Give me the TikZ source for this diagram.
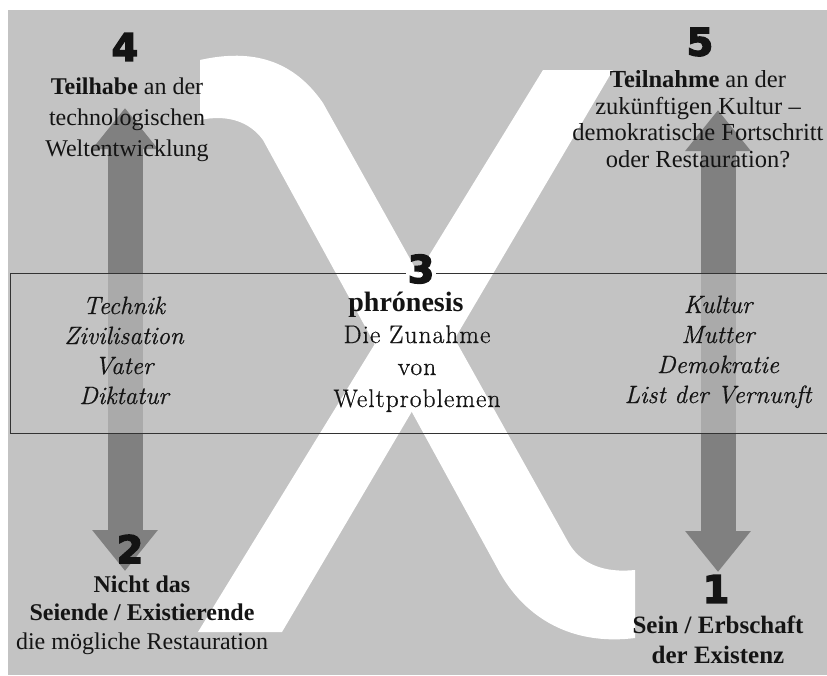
\documentclass[tikz,border=0pt]{standalone}
\usepackage{fontspec}
\setmainfont{Liberation Serif}
\newfontfamily\lmfont{Latin Modern Roman}[FakeBold=0.6]
\newfontfamily\lmwide{Latin Modern Roman}[FakeBold=0.6, LetterSpace=4]
\newfontfamily\numfont{DejaVu Sans}[FakeBold=4]
\usetikzlibrary{arrows.meta}
\definecolor{bg}{HTML}{C3C3C3}
\definecolor{arr}{HTML}{808080}
\definecolor{ink}{HTML}{141414}
\begin{document}
\begin{tikzpicture}[x=1pt,y=-1pt,
  txt/.style={text=ink, inner sep=0pt, align=center, anchor=base},
  times/.style={txt, font=\fontsize{24}{31}\selectfont},
  ital/.style={txt, font=\lmfont\itshape\fontsize{25}{30}\selectfont},
  num/.style={text=ink, inner sep=2pt, font=\numfont\bfseries\fontsize{38}{38}\selectfont},
  bigarrow/.style={draw=arr, line width=35pt, {Triangle[width=63pt,length=41pt]}-{Triangle[width=63pt,length=41pt]}},
  frame/.style={draw=black!80, line width=1pt}]
\useasboundingbox (0,0) rectangle (827,675);
\clip (0,0) rectangle (827,675);
\fill[white] (0,0) rectangle (827,675);
\fill[bg] (8,10) rectangle (827,675);
% arrows
\coordinate (aL1) at (125,108);
\coordinate (aL2) at (125,571);
\coordinate (aR1) at (718,110);
\coordinate (aR2) at (718,572);
\draw[bigarrow] (aL1) -- (aL2);
\draw[bigarrow] (aR1) -- (aR2);
% middle band fill
\fill[bg, opacity=0.64] (10,273) rectangle (830,433);
% chi
\fill[white] (200,60) .. controls (245,50) and (290,55) .. (323,103)
  -- (567,540) .. controls (580,565) and (605,573) .. (635,570)
  -- (635,638) .. controls (580,645) and (530,625) .. (500,573)
  -- (263,140) .. controls (250,122) and (228,114) .. (200,120) -- cycle;
\fill[white] (543,70) -- (613,70) -- (282,632) -- (198,632) -- cycle;
% numbers
\node[num] (n4) at (125,47) {4};
\node[num] (n5) at (700,42) {5};
\node[num] (n3) at (421,269) {3};
\node[num] (n2) at (130,549) {2};
\node[num] (n1) at (716,589) {1};
% band frame
\coordinate (rtl) at (10,273);
\coordinate (rbl) at (10,433);
\coordinate (rbr) at (830,433);
\coordinate (rtr) at (830,273);
\draw[frame] (n3.west |- rtl) -- (rtl) -- (rbl) -- (rbr);
\draw[frame] (n3.east |- rtr) -- (rtr);
% texts (anchor = baseline of last line)
\node[times] (t4) at (127,156) {\textbf{Teilhabe} an der\\technologischen\\Weltentwicklung};
\node[times, font=\fontsize{24.5}{26.5}\selectfont] (t5) at (698,167) {\textbf{Teilnahme} an der\\zuk\"unftigen Kultur --\\demokratische Fortschritt\\oder Restauration?};
\node[ital] (tl) at (124,404) {Technik\\Zivilisation\\Vater\\Diktatur};
\node[ital] (tr) at (718,403) {Kultur\\Mutter\\Demokratie\\List der Vernunft};
\node[txt, font=\lmwide\fontsize{25.5}{32}\selectfont] (t3) at (417,407) {{\rmfamily\bfseries\fontsize{28}{32}\selectfont phr\'onesis\hspace*{22pt}}\\Die Zunahme\\von\\Weltproblemen};
\node[times, font=\fontsize{24}{28.5}\selectfont] (t2) at (142,649) {\textbf{Nicht das}\\\textbf{Seiende / Existierende}\\die m\"ogliche Restauration};
\node[times, font=\bfseries\fontsize{25}{30}\selectfont] (t1) at (718,663) {Sein / Erbschaft\\der Existenz};
\end{tikzpicture}
\end{document}
